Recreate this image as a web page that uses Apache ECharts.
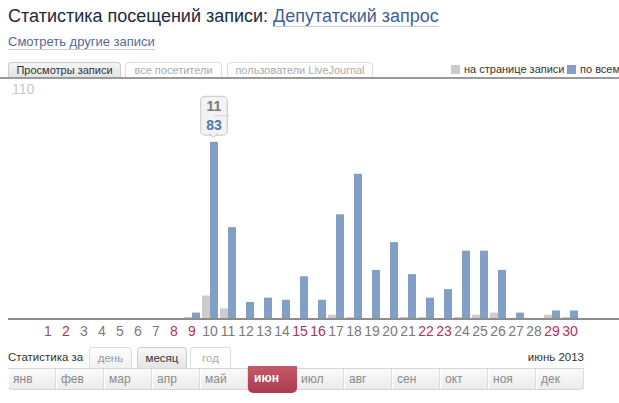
<!DOCTYPE html>
<html><head><meta charset="utf-8">
<script src="https://cdn.jsdelivr.net/npm/echarts@6/dist/echarts.min.js"></script>
<style>
html,body{margin:0;padding:0;width:619px;height:403px;overflow:hidden;background:#fff;font-family:Arial,"Liberation Sans",sans-serif;}
#chart{position:absolute;left:0;top:0;width:619px;height:403px;}
.abs{position:absolute;white-space:nowrap;}
#title{left:8px;top:6px;font-size:18px;color:#1c2a3e;}
#title a{color:#3f5f96;text-decoration:none;border-bottom:1px solid #c4c9d4;}
#other{left:8px;top:34px;font-size:13px;color:#56699a;border-bottom:1px solid #c8ccd6;line-height:15px;}
.tab{position:absolute;top:62px;line-height:15px;font-size:11px;text-align:center;border:1px solid #ddd;border-bottom:none;border-radius:4px 4px 0 0;box-sizing:border-box;height:16px;white-space:nowrap;}
#topline{left:0;top:77px;width:619px;height:0;border-top:2px solid #9a9a9a;}
.leg{position:absolute;top:65px;width:9px;height:9px;}
.legt{position:absolute;top:62px;font-size:11px;color:#333;line-height:15px;white-space:nowrap;}
#legclip{position:absolute;left:580px;top:62px;width:39px;height:15px;overflow:hidden;}
#ymax{left:12px;top:81px;font-size:14px;color:#c8c8c8;}
#base{left:8px;top:318px;width:611px;border-top:2px solid #8c8c8c;}
#statfor{left:8px;top:351px;font-size:11.5px;color:#333;}
.ptab{position:absolute;top:347px;height:21px;line-height:21px;font-size:11.5px;text-align:center;border:1px solid #ddd;border-bottom:none;border-radius:4px 4px 0 0;box-sizing:border-box;}
#period{right:35px;top:351px;font-size:11.5px;color:#333;}
#months{left:8px;top:368px;width:576px;height:22px;border:1px solid #d4d4d4;border-radius:0 0 4px 4px;box-sizing:border-box;background:linear-gradient(#fafafa,#ececec);}
.m{position:absolute;top:0;height:20px;line-height:20px;font-size:12px;color:#8a8a8a;padding-left:4px;box-sizing:border-box;border-left:1px solid #fff;border-right:1px solid #dcdcdc;}
.mact{position:absolute;top:366px;height:27px;line-height:24px;font-size:12px;color:#fff;font-weight:bold;background:linear-gradient(#c45a6a,#ad3a4e);border-radius:0 0 5px 5px;padding-left:6px;box-sizing:border-box;}
</style></head><body>
<div id="chart"></div>
<div class="abs" id="title">Статистика посещений записи: <a>Депутатский запрос</a></div>
<div class="abs" id="other">Смотреть другие записи</div>
<div class="tab" style="left:8px;width:113px;background:linear-gradient(#f6f6f6,#e2e2e2);color:#333;border-color:#ccc;">Просмотры записи</div>
<div class="tab" style="left:125px;width:97px;color:#aaa;background:#fff;">все посетители</div>
<div class="tab" style="left:227px;width:146px;color:#aaa;background:#fff;">пользователи LiveJournal</div>
<div class="leg" style="left:451px;background:#cbcbcb;"></div>
<div class="legt" style="left:464px;">на странице записи</div>
<div class="leg" style="left:567px;background:#82a0c6;"></div>
<div id="legclip"><div class="legt" style="left:0;top:0;">по всем</div></div>
<div class="abs" id="topline"></div>
<div class="abs" id="ymax">110</div>
<div class="abs" id="base"></div>
<div class="abs" id="statfor">Статистика за</div>
<div class="ptab" style="left:89px;width:43px;color:#999;background:linear-gradient(#fff,#f0f0f0);">день</div>
<div class="ptab" style="left:137px;width:50px;color:#333;background:linear-gradient(#f8f8f8,#e4e4e4);border-color:#ccc;">месяц</div>
<div class="ptab" style="left:190px;width:41px;color:#aaa;background:#fff;">год</div>
<div class="abs" id="period">июнь 2013</div>
<div class="abs" id="months"></div>
<script>
// ---- data ----
var days = ['1','2','3','4','5','6','7','8','9','10','11','12','13','14','15','16','17','18','19','20','21','22','23','24','25','26','27','28','29','30'];
var onPage = [0,0,0,0,0,0,0,0,1,11,5,0,0,0,0,0,2,1,0,0,1,1,0,1,2,3,0,0,2,1];
var allPages = [0,0,0,0,0,0,0,0,3,83,43,8,10,9,20,9,49,68,23,36,21,10,14,32,32,23,3,0,4,4];
var yMax = 110;
var monthNames = ['янв','фев','мар','апр','май','июн','июл','авг','сен','окт','ноя','дек'];
var activeMonth = 5;
var year = 2013;
var highlightDay = 9; // index of day 10

// month bar
var mb = document.getElementById('months');
var cw = 576/12;
monthNames.forEach(function(n,i){
  var d = document.createElement('div');
  d.className='m'; if(i!==activeMonth) d.textContent=n;
  d.style.left=(i*cw-1)+'px'; d.style.width=cw+'px';
  mb.appendChild(d);
});
var act = document.createElement('div');
act.className='mact'; act.textContent=monthNames[activeMonth];
act.style.left=(8+activeMonth*cw)+'px'; act.style.width=(cw+1)+'px';
document.body.appendChild(act);

function dayColor(v){
  var wd = new Date(year, activeMonth, +v).getDay();
  if (wd===0||wd===6) return v==='1' ? '#945468' : '#b3305a';
  return '#7a7a7a';
}

var blueData = allPages.map(function(v,i){
  if(i!==highlightDay) return v;
  return {value:v, label:{show:true, position:'top', distance:7,
    formatter:'{a|'+onPage[i]+'}\n{hr|}\n{b|'+v+'}',
    backgroundColor:'#f3f3f3', borderColor:'#c8c8c8', borderWidth:1, borderRadius:4, padding:[0,5],
    rich:{a:{color:'#7a7a7a',fontSize:14,fontWeight:'bold',lineHeight:19,align:'center',fontFamily:'Arial, Liberation Sans'},
          hr:{borderColor:'#cfcfcf',width:'100%',borderWidth:0.5,height:0},
          b:{color:'#4d78ad',fontSize:14,fontWeight:'bold',lineHeight:19,align:'center',fontFamily:'Arial, Liberation Sans'}}}};
});

var chart = echarts.init(document.getElementById('chart'), null, {renderer:'svg'});
chart.setOption({
  animation:false,
  grid:{left:39, right:40, top:84, bottom:84},
  xAxis:{type:'category', data:days, axisLine:{show:false}, axisTick:{show:false},
    axisLabel:{interval:0, margin:5, fontSize:14, fontFamily:'Arial, Liberation Sans', color:dayColor}},
  yAxis:{type:'value', min:0, max:yMax, show:false, splitLine:{show:false}},
  series:[
    {type:'bar', data:onPage, barWidth:8, barGap:'0%', itemStyle:{color:'#cccccc'}},
    {type:'bar', data:blueData, barWidth:8, barGap:'0%', itemStyle:{color:'#82a0c6'}}
  ]
});
var p = chart.convertToPixel({gridIndex:0},[highlightDay, allPages[highlightDay]]);
chart.setOption({graphic:[{type:'polygon', shape:{points:[[p[0]-0.5,p[1]-8],[p[0]+7.5,p[1]-8],[p[0]+3.5,p[1]-4]]},
  style:{fill:'#f3f3f3', stroke:'#c8c8c8', lineWidth:1}, z:100},
  {type:'rect', shape:{x:p[0]+0.5,y:p[1]-9.5,width:6,height:2}, style:{fill:'#f3f3f3'}, z:101}]});
</script>
</body></html>
